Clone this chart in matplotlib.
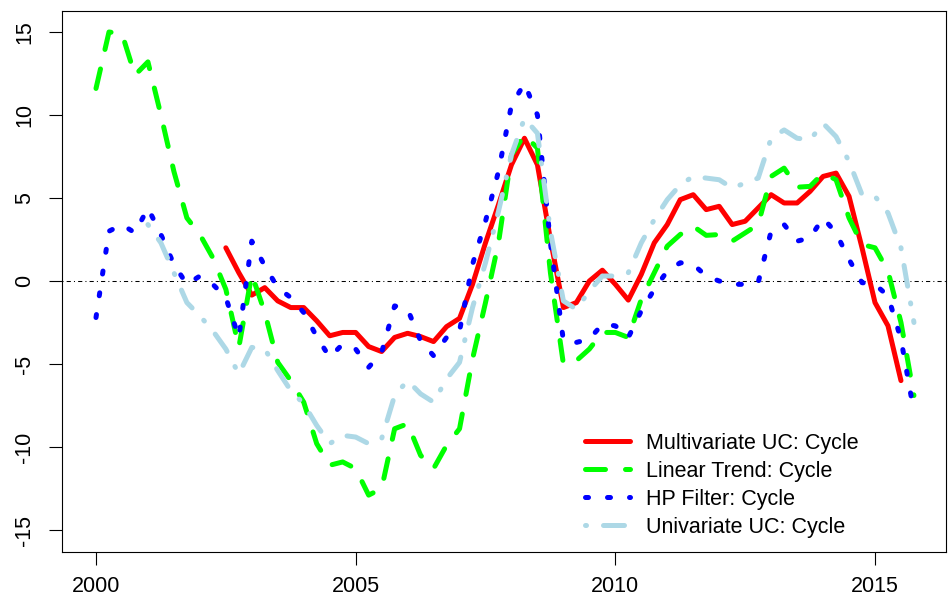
import numpy as np
import matplotlib
matplotlib.use("Agg")
import matplotlib.pyplot as plt

plt.rcParams['font.family'] = ['Liberation Sans', 'DejaVu Sans']

# Quarterly time index 2000Q1 .. 2015Q4
start_year = 2000
n_quarters = 64
nan = np.nan

multivariate_uc = [nan]*10 + [
    2.0, 0.5, -0.85, -0.4, -1.2, -1.6, -1.6, -2.4, -3.3, -3.1,
    -3.1, -3.95, -4.25, -3.4, -3.15, -3.35, -3.65, -2.75, -2.25, -0.2,
    2.3, 4.6, 7.0, 8.6, 7.0, 2.5, -1.6, -1.3, 0.0, 0.65,
    -0.2, -1.15, 0.4, 2.3, 3.4, 4.9, 5.2, 4.3, 4.5, 3.4,
    3.6, 4.4, 5.2, 4.7, 4.7, 5.4, 6.3, 6.5, 5.1, 2.0,
    -1.3, -2.7, -6.0] + [nan]

linear_trend = [
    11.6, 15.0, 14.9, 12.4, 13.2, 10.0, 6.6, 3.8, 2.8, 1.4,
    -0.5, -4.0, 0.4, -1.9, -4.9, -6.0, -7.3, -9.8, -11.1, -10.9,
    -11.3, -12.9, -12.5, -8.9, -8.6, -10.5, -11.3, -9.9, -8.9, -4.7,
    -1.3, 2.3, 7.6, 8.8, 8.0, 0.5, -5.0, -4.8, -4.1, -3.1,
    -3.1, -3.4, -1.1, 0.5, 2.1, 2.8, 3.3, 2.75, 2.8, 2.4,
    2.9, 3.4, 6.3, 6.8, 5.65, 5.7, 6.5, 6.1, 3.8, 2.2,
    2.0, 0.6, -2.5, -6.9]

hp_filter = [
    -2.2, 3.0, 3.4, 2.9, 4.4, 2.8, 1.0, -0.2, 0.3, -0.2,
    -1.0, -3.4, 2.4, 0.9, -0.4, -1.0, -1.9, -3.35, -4.6, -3.8,
    -4.1, -5.2, -4.3, -1.5, -1.7, -3.6, -4.5, -3.4, -3.0, 1.0,
    3.6, 6.6, 10.6, 11.9, 10.0, 2.3, -3.6, -3.7, -3.5, -2.6,
    -2.7, -3.4, -1.8, -0.5, 0.6, 1.1, 1.0, 0.3, 0.0, -0.2,
    -0.2, -0.1, 3.0, 3.4, 2.4, 2.6, 3.8, 2.9, 1.3, -0.1,
    -0.2, -0.9, -3.5, -7.9]

univariate_uc = [nan]*4 + [
    3.4, 2.3, 0.5, -1.3, -2.1, -3.0,
    -4.1, -5.6, -4.0, -4.1, -5.4, -6.6, -7.4, -8.7, -9.8, -9.3,
    -9.4, -9.8, -9.5, -6.9, -6.0, -6.8, -7.3, -5.9, -4.9, -1.6,
    1.1, 4.2, 7.6, 9.8, 8.9, 3.0, -1.2, -1.7, -0.6, 0.3,
    0.3, 0.5, 2.3, 3.7, 4.9, 5.8, 6.3, 6.2, 6.1, 5.6,
    5.9, 6.2, 8.6, 9.1, 8.6, 8.5, 9.5, 8.7, 7.2, 5.2,
    5.1, 4.1, 2.0, -2.5]

labels = ["Multivariate UC: Cycle", "Linear Trend: Cycle",
          "HP Filter: Cycle", "Univariate UC: Cycle"]
x_ticks = [2000, 2005, 2010, 2015]
y_ticks = [-15, -10, -5, 0, 5, 10, 15]

t = start_year + np.arange(n_quarters) / 4.0

W, H, DPI = 950, 605, 100
fig = plt.figure(figsize=(W / DPI, H / DPI), dpi=DPI)
L, R, T, B = 62, 946, 11, 552
ax = fig.add_axes([L / W, 1 - B / H, (R - L) / W, (B - T) / H])

lw = 3.6
styles = [
    dict(color="#FF0000", lw=lw, ls="-", solid_capstyle="round", solid_joinstyle="round"),
    dict(color="#00FF00", lw=lw, dashes=(4, 4), dash_capstyle="round", solid_joinstyle="round"),
    dict(color="#0000FF", lw=lw, dashes=(0.6, 3.8), dash_capstyle="round"),
    dict(color="#ADD8E6", lw=lw, dashes=(0.2, 3.4, 4.2, 3.4), dash_capstyle="round"),
]
series = [multivariate_uc, linear_trend, hp_filter, univariate_uc]

ax.axhline(0, color="black", lw=0.75, dashes=(1, 3, 4, 3))
handles = []
for s, st, lab in zip(series, styles, labels):
    ln, = ax.plot(t, np.array(s, dtype=float), label=lab, **st)
    handles.append(ln)

px_per_year = (875 - 96) / 15.0
ax.set_xlim(2000 - (96 - L) / px_per_year, 2000 + (R - 96) / px_per_year)
px_per_unit = 16.6
ax.set_ylim(-(B - 281) / px_per_unit, (281 - T) / px_per_unit)

ax.set_xticks(x_ticks)
ax.set_xticklabels([str(v) for v in x_ticks])
ax.set_yticks(y_ticks)
ax.set_yticklabels([str(v) for v in y_ticks], rotation=90, va="center")
ax.tick_params(axis="both", direction="out", length=9.4, width=0.8,
               labelsize=15.5, colors="black")
ax.tick_params(axis="x", pad=8)
ax.tick_params(axis="y", pad=10)
for sp in ax.spines.values():
    sp.set_linewidth(0.8)
    sp.set_color("black")

leg = ax.legend(handles, labels, loc="upper left",
                bbox_to_anchor=((585 - L) / (R - L), 1 - (433 - T) / (B - T)),
                frameon=False, fontsize=15.5, handlelength=2.1,
                handletextpad=0.72, labelspacing=0.32, borderpad=0,
                borderaxespad=0)

fig.savefig("out.png", dpi=DPI)
